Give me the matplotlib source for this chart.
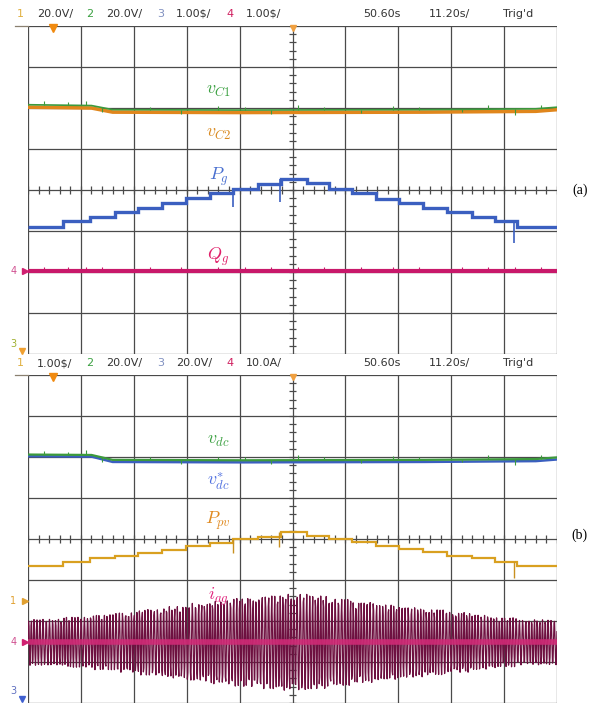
import numpy as np
import matplotlib
matplotlib.use('Agg')
import matplotlib.pyplot as plt

plt.rcParams['mathtext.fontset'] = 'cm'

# ---------------- data (time in divisions 0..10, levels in divisions) -------------
step_edges = [0, 0.66, 1.17, 1.65, 2.08, 2.53, 2.99, 3.44, 3.88, 4.35, 4.78,
              5.27, 5.69, 6.12, 6.58, 7.01, 7.47, 7.92, 8.39, 8.83, 9.24, 10.0]
pg_levels = [-0.90, -0.76, -0.66, -0.54, -0.44, -0.32, -0.20, -0.07, 0.02, 0.15, 0.27,
             0.17, 0.02, -0.07, -0.22, -0.32, -0.44, -0.54, -0.66, -0.76, -0.90]
ppv_levels = [-0.66, -0.55, -0.47, -0.41, -0.35, -0.27, -0.17, -0.09, 0.00, 0.06, 0.16,
              0.07, 0.00, -0.07, -0.16, -0.24, -0.31, -0.41, -0.47, -0.55, -0.67]
iag_env = [0.56, 0.61, 0.67, 0.73, 0.80, 0.87, 0.95, 1.02, 1.08, 1.13, 1.17,
           1.13, 1.05, 0.98, 0.91, 0.85, 0.79, 0.73, 0.66, 0.60, 0.55]
qg_level = -1.98
iag_zero = -2.52

vc_x = [0, 1.2, 1.6, 4.0, 7.5, 9.6, 10.0]
vc1_y = [2.08, 2.06, 1.96, 1.95, 1.96, 1.98, 2.02]
vc2_y = [2.02, 2.00, 1.90, 1.89, 1.90, 1.92, 1.96]
vdc_y = [2.06, 2.05, 1.93, 1.92, 1.93, 1.95, 1.99]
vdcref_y = [2.02, 2.01, 1.88, 1.87, 1.88, 1.90, 1.94]

pg_spike_x = [3.87, 4.77, 9.19]
pg_spike_lo = [-0.42, -0.30, -1.30]
ppv_spike_x = [3.87, 4.75, 9.19]
ppv_spike_lo = [-0.34, -0.20, -0.95]
noise_x = [0.3, 0.75, 1.1, 1.4, 2.3, 2.9, 3.6, 4.1, 4.6, 5.1, 5.6, 6.3, 6.9, 7.4, 8.2, 8.7, 9.2, 9.7]
noise_h = [0.10, 0.08, 0.12, -0.10, 0.07, -0.09, 0.09, 0.08, -0.10, 0.12, 0.07, -0.08, 0.09, 0.06, -0.07, 0.10, -0.14, 0.08]

header_a = [("1", "#e0b040"), ("20.0V/", "#333333"), ("2", "#3aa040"), ("20.0V/", "#333333"),
            ("3", "#8090c0"), ("1.00\\$/", "#333333"), ("4", "#d02060"), ("1.00\\$/", "#333333")]
header_b = [("1", "#e0b040"), ("1.00\\$/", "#333333"), ("2", "#3aa040"), ("20.0V/", "#333333"),
            ("3", "#8090c0"), ("20.0V/", "#333333"), ("4", "#d02060"), ("10.0A/", "#333333")]
header_x_px = [17, 37, 86, 106, 157, 176, 226, 246]
header_right = ["50.60s", "11.20s/", "Trig'd"]
header_right_px = [363, 429, 503]

W, H = 598, 703
fig = plt.figure(figsize=(W / 100, H / 100), dpi=100)
fig.patch.set_facecolor('white')

L, R = 28, 557
def make_ax(top_px):
    ax = fig.add_axes([L / W, 1 - (top_px + 328) / H, (R - L) / W, 328 / H])
    ax.set_xlim(0, 10)
    ax.set_ylim(-4, 4)
    ax.axis('off')
    for xv in range(0, 11):
        ax.axvline(xv, color='#4a4a4a', lw=0.9, zorder=1)
    for yv in range(-4, 5):
        ax.axhline(yv, color='#4a4a4a', lw=0.9, zorder=1)
    ax.plot([-0.25, 0], [4, 4], color='#8a8070', lw=0.9, clip_on=False)
    ty = np.arange(-4, 4.01, 0.2)
    ax.hlines(ty, 4.94, 5.06, color='#4a4a4a', lw=0.9, zorder=1)
    tx = np.arange(0, 10.01, 0.2)
    ax.vlines(tx, -0.09, 0.09, color='#4a4a4a', lw=0.9, zorder=1)
    ax.plot([0.47], [3.95], marker='v', color='#f08a10', ms=6, clip_on=False, zorder=5)
    ax.plot([5.0], [3.95], marker='v', color='#f0a040', ms=4, clip_on=False, zorder=5)
    return ax

def header(top_px, items):
    y = 1 - (top_px - 12) / H
    for (s, c), xp in zip(items, header_x_px):
        fig.text(xp / W, y, s, color=c, fontsize=8, va='center', ha='left',
                 family=['Liberation Sans Narrow', 'DejaVu Sans'])
    for s, xp in zip(header_right, header_right_px):
        fig.text(xp / W, y, s, color='#333333', fontsize=8, va='center', ha='left',
                 family=['Liberation Sans Narrow', 'DejaVu Sans'])

lab_kw = dict(fontsize=13, ha='center', va='center')

# ---------------- panel (a) ----------------
axa = make_ax(26)
header(26, header_a)
axa.plot(vc_x, vc2_y, color='#e0861c', lw=2.6, zorder=3)
axa.plot(vc_x, vc1_y, color='#3c9a3c', lw=1.2, zorder=4)
axa.vlines(noise_x, np.interp(noise_x, vc_x, vc1_y), np.interp(noise_x, vc_x, vc1_y) + np.array(noise_h),
           color='#3c9a3c', lw=0.8, zorder=4)
axa.stairs(pg_levels, step_edges, baseline=None, color='#3b5fc0', lw=2.4, zorder=3)
axa.vlines(pg_spike_x, pg_spike_lo, [pg_levels[i] for i in (8, 10, 19)], color='#3b5fc0', lw=1.2, zorder=3)
axa.axhline(qg_level, color='#c8186a', lw=3.0, zorder=3)
axa.vlines(noise_x, qg_level, qg_level + 0.1, color='#c8186a', lw=0.8, zorder=3)
axa.text(3.6, 2.44, r'$v_{C1}$', color='#3aa040', **lab_kw)
axa.text(3.6, 1.39, r'$v_{C2}$', color='#d98a20', **lab_kw)
axa.text(3.6, 0.32, r'$P_g$', color='#4a70d0', **lab_kw)
axa.text(3.6, -1.63, r'$Q_g$', color='#e0206a', **lab_kw)
axa.text(10.43, 0.0, '(a)', fontsize=10, family='Liberation Serif', ha='center', va='center', clip_on=False)
axa.text(-0.22, qg_level, '4', color='#d05090', fontsize=7, ha='right', va='center', clip_on=False)
axa.plot([-0.06], [qg_level], marker='>', color='#d02070', ms=4, clip_on=False)
axa.text(-0.22, -3.75, '3', color='#a0b030', fontsize=7, ha='right', va='center', clip_on=False)
axa.plot([-0.12], [-3.92], marker='v', color='#f0a030', ms=4, clip_on=False)

# ---------------- panel (b) ----------------
axb = make_ax(375)
header(375, header_b)
axb.plot(vc_x, vdcref_y, color='#3b5fc0', lw=1.8, zorder=3)
axb.plot(vc_x, vdc_y, color='#3c9a3c', lw=1.6, zorder=4)
axb.vlines(noise_x, np.interp(noise_x, vc_x, vdc_y), np.interp(noise_x, vc_x, vdc_y) + np.array(noise_h),
           color='#3c9a3c', lw=0.8, zorder=4)
axb.stairs(ppv_levels, step_edges, baseline=None, color='#d9a020', lw=1.6, zorder=3)
axb.vlines(ppv_spike_x, ppv_spike_lo, [ppv_levels[i] for i in (8, 10, 19)], color='#c89020', lw=1.0, zorder=3)

# grid current: sinusoidal carrier (aliased on the scope) under the read envelope
N = 1060
k = np.arange(N)
t = k * 10 / (N - 1)
idx = np.clip(np.searchsorted(step_edges, t, side='right') - 1, 0, len(iag_env) - 1)
env = np.array(iag_env)[idx]
phase = 2 * np.pi * 0.171 * k + 1.3 * np.sin(2 * np.pi * 0.0137 * k)
iag = env * np.sin(phase)
axb.plot(t, iag + iag_zero, color='#6e1040', lw=0.9, zorder=3)
axb.axhline(iag_zero, color='#d42a78', lw=4.0, alpha=0.85, zorder=4)

axb.text(3.6, 2.41, r'$v_{dc}$', color='#3aa040', **lab_kw)
axb.text(3.6, 1.41, r'$v_{dc}^{*}$', color='#5070e0', **lab_kw)
axb.text(3.6, 0.44, r'$P_{pv}$', color='#e08a20', **lab_kw)
axb.text(3.6, -1.41, r'$i_{ag}$', color='#e0207a', **lab_kw)
axb.text(10.43, 0.1, '(b)', fontsize=10, family='Liberation Serif', ha='center', va='center', clip_on=False)
axb.text(-0.22, -1.5, '1', color='#e0a030', fontsize=7, ha='right', va='center', clip_on=False)
axb.plot([-0.06], [-1.5], marker='>', color='#e0a030', ms=4, clip_on=False)
axb.text(-0.22, iag_zero, '4', color='#d05090', fontsize=7, ha='right', va='center', clip_on=False)
axb.plot([-0.06], [iag_zero], marker='>', color='#d02070', ms=4, clip_on=False)
axb.text(-0.22, -3.7, '3', color='#6070c0', fontsize=7, ha='right', va='center', clip_on=False)
axb.plot([-0.12], [-3.9], marker='v', color='#4060d0', ms=4, clip_on=False)

fig.savefig('out.png', dpi=100, facecolor='white')
